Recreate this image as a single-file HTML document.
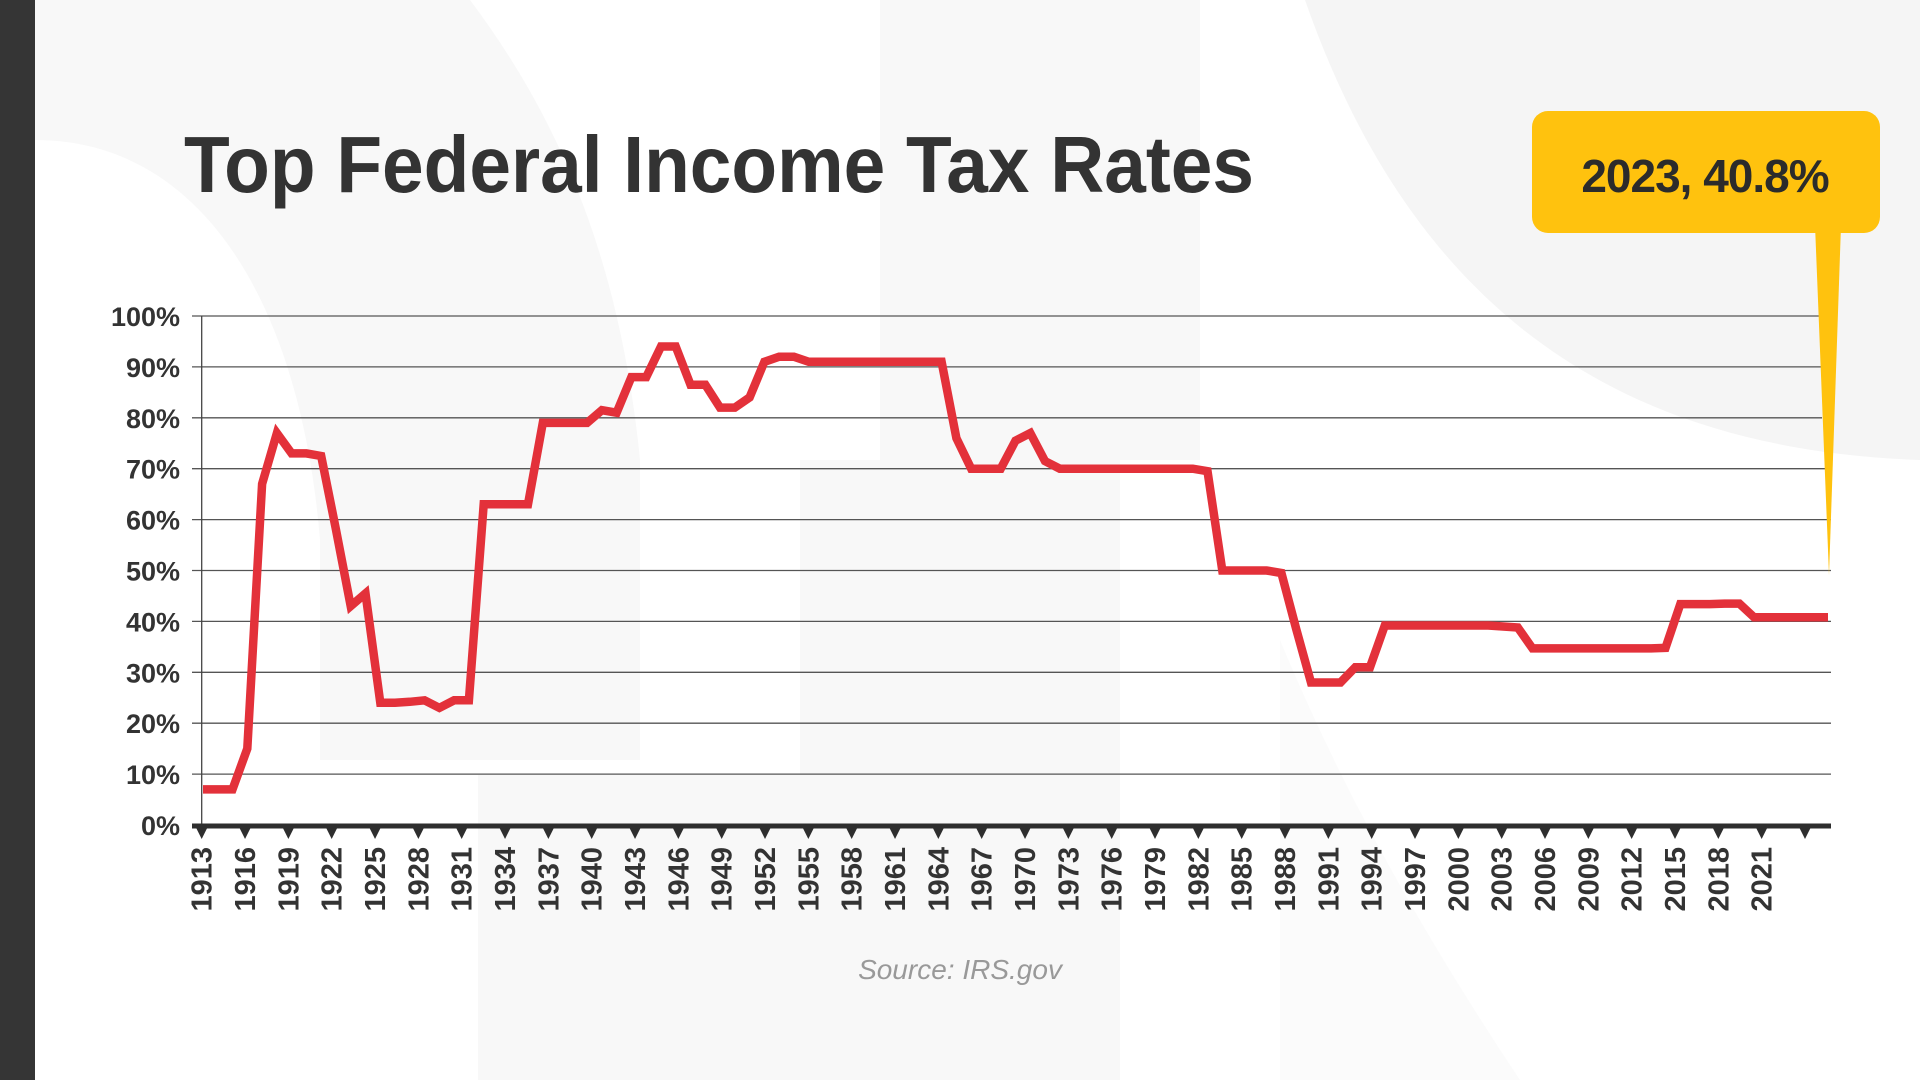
<!DOCTYPE html>
<html><head><meta charset="utf-8"><style>
html,body{margin:0;padding:0;width:1920px;height:1080px;overflow:hidden;background:#fff}
svg{display:block}
</style></head><body>
<svg id="chart" width="1920" height="1080" viewBox="0 0 1920 1080" xmlns="http://www.w3.org/2000/svg" font-family="'Liberation Sans', sans-serif">
<g>
<rect x="0" y="0" width="1920" height="1080" fill="#fff"/>
<path d="M35 0 H470 C560 120 620 260 640 460 L640 760 L35 760 Z" fill="#f8f8f8"/>
<path d="M35 140 C200 140 300 300 320 540 L320 780 L35 780 Z" fill="#fff"/>
<rect x="880" y="0" width="320" height="460" fill="#f8f8f8"/>
<rect x="800" y="460" width="320" height="620" fill="#f8f8f8"/>
<rect x="478" y="775" width="642" height="305" fill="#f8f8f8"/>
<path d="M1305 0 H1920 V460 C1640 450 1420 330 1305 0 Z" fill="#f5f5f5"/>
<path d="M1280 640 C1330 760 1400 900 1520 1080 H1280 Z" fill="#fbfbfb"/>
<rect x="0" y="0" width="35" height="1080" fill="#353535"/>
</g>
<text x="184" y="192" font-size="80" font-weight="bold" fill="#333" textLength="1070" lengthAdjust="spacingAndGlyphs">Top Federal Income Tax Rates</text>
<g id="grid"></g>
<g id="yticks"></g>
<g id="xticks"></g>
<g id="series"></g>
<g>
<polygon points="1815,225 1841,225 1829,575" fill="#FFC20E"/>
<rect x="1532" y="111" width="348" height="122" rx="16" fill="#FFC20E"/>
<text x="1705" y="192" font-size="46" font-weight="bold" fill="#2b2b2b" text-anchor="middle" letter-spacing="-1">2023, 40.8%</text>
</g>
<text x="960" y="979" font-size="28" font-style="italic" fill="#999" text-anchor="middle">Source: IRS.gov</text>
</svg>
<script>
const years = [1913,1914,1915,1916,1917,1918,1919,1920,1921,1922,1923,1924,1925,1926,1927,1928,1929,1930,1931,1932,1933,1934,1935,1936,1937,1938,1939,1940,1941,1942,1943,1944,1945,1946,1947,1948,1949,1950,1951,1952,1953,1954,1955,1956,1957,1958,1959,1960,1961,1962,1963,1964,1965,1966,1967,1968,1969,1970,1971,1972,1973,1974,1975,1976,1977,1978,1979,1980,1981,1982,1983,1984,1985,1986,1987,1988,1989,1990,1991,1992,1993,1994,1995,1996,1997,1998,1999,2000,2001,2002,2003,2004,2005,2006,2007,2008,2009,2010,2011,2012,2013,2014,2015,2016,2017,2018,2019,2020,2021,2022,2023];
const rates = [7,7,7,15,67,77,73,73,72.5,58,43,45.5,24,24,24.2,24.5,23,24.5,24.5,63,63,63,63,79,79,79,79,81.5,81,88,88,94,94,86.5,86.5,82,82,84,91,92,92,91,91,91,91,91,91,91,91,91,91,76,70,70,70,75.5,77,71.5,70,70,70,70,70,70,70,70,70,70,69.5,50,50,50,50,49.5,38.5,28,28,28,31,31,39.2,39.2,39.2,39.2,39.2,39.2,39.2,39.2,39,38.8,34.7,34.7,34.7,34.7,34.7,34.7,34.7,34.7,34.7,34.8,43.4,43.4,43.4,43.5,43.5,40.8,40.8,40.8,40.8,40.8,40.8];
const yTicks = [0,10,20,30,40,50,60,70,80,90,100];
const xTickLabels = ['1913','1916','1919','1922','1925','1928','1931','1934','1937','1940','1943','1946','1949','1952','1955','1958','1961','1964','1967','1970','1973','1976','1979','1982','1985','1988','1991','1994','1997','2000','2003','2006','2009','2012','2015','2018','2021',''];

const NS='http://www.w3.org/2000/svg';
const y0=825, y100=316;
function yPos(v){return y0-(v/100)*(y0-y100);}
function xData(yr){return 203+(yr-1913)*(1828-203)/(2023-1913);}
function xTick(i){return 201.7+i*(1805-201.7)/(xTickLabels.length-1);}
function mk(tag,attrs,parent){const e=document.createElementNS(NS,tag);for(const k in attrs)e.setAttribute(k,attrs[k]);parent.appendChild(e);return e;}

const grid=document.getElementById('grid');
const yt=document.getElementById('yticks');
yTicks.forEach(v=>{
  if(v>0){
    const l=mk('line',{x1:192,x2:v>=80?1822:1831,y1:yPos(v),y2:yPos(v),stroke:'#555','stroke-width':1.3},grid);
    
    
  }
  const t=mk('text',{x:180,y:yPos(v)+10,'font-size':27,'font-weight':'bold',fill:'#333','text-anchor':'end'},yt);
  t.textContent=v+'%';
  
  
});
const va=mk('line',{x1:201.7,x2:201.7,y1:y100,y2:y0,stroke:'#444','stroke-width':1.3},grid);



const xt=document.getElementById('xticks');
const ax=mk('line',{x1:192,x2:1831,y1:y0+1,y2:y0+1,stroke:'#2e2e2e','stroke-width':5},xt);


xTickLabels.forEach((lab,i)=>{
  const x=xTick(i);
  const m=mk('polygon',{points:`${x-6},${y0+2} ${x+6},${y0+2} ${x},${y0+14}`,fill:'#2e2e2e'},xt);
  
  
  if(lab){
    const t=mk('text',{x:0,y:0,'font-size':29,'font-weight':'bold',fill:'#333','text-anchor':'end',transform:`translate(${x+10},${y0+22}) rotate(-90)`},xt);
    t.textContent=lab;
    
    
  }
});

const s=document.getElementById('series');
const pts=years.map((yr,i)=>xData(yr).toFixed(1)+','+yPos(rates[i]).toFixed(1)).join(' ');
const pl=mk('polyline',{points:pts,fill:'none',stroke:'#e3313a','stroke-width':8.5,'stroke-linejoin':'miter','stroke-miterlimit':3},s);


</script>
</body></html>
